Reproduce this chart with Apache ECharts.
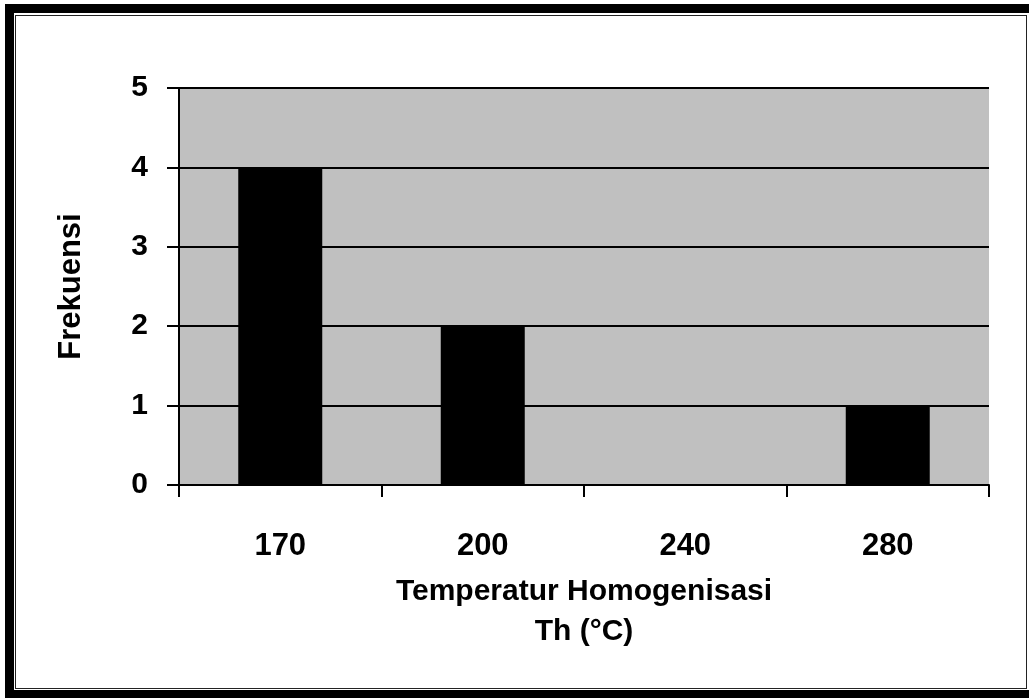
<!DOCTYPE html>
<html>
<head>
<meta charset="utf-8">
<script src="https://cdn.jsdelivr.net/npm/echarts@6/dist/echarts.min.js"></script>
<style>
    html, body { margin: 0; padding: 0; background: #fff; }
    #chart { position: absolute; left: 0; top: 0; width: 1029px; height: 698px; }
    .frame-outer {
        position: absolute; left: 5px; top: 4px; width: 1024px; height: 694px;
        box-sizing: border-box;
        border-top: 9px solid #000; border-left: 9px solid #000; border-bottom: 8px solid #000;
        pointer-events: none;
    }
    .frame-inner {
        position: absolute; left: 15px; top: 15px; width: 1012px; height: 674px;
        box-sizing: border-box; border: 1px solid #222;
        pointer-events: none;
    }
</style>
</head>
<body>
<div id="chart"></div>
<div class="frame-outer"></div>
<div class="frame-inner"></div>
<script>
// data
const categories = ["170", "200", "240", "280"]
const frekuensi = [4, 2, 0, 1]
const yTicks = [0, 1, 2, 3, 4, 5]

const font = "'Liberation Sans', Arial, sans-serif"

const chart = echarts.init(document.getElementById("chart"))

const option = {
    animation: false,
    backgroundColor: "#fff",
    grid: {
        left: 179,
        top: 88,
        right: 40,
        bottom: 213,
        show: true,
        backgroundColor: "#c0c0c0",
        borderWidth: 0,
    },
    xAxis: {
        type: "category",
        data: categories,
        boundaryGap: true,
        name: "Temperatur Homogenisasi\nTh (°C)",
        nameLocation: "middle",
        nameGap: 87,
        nameTextStyle: {
            color: "#000",
            fontFamily: font,
            fontWeight: "bold",
            fontSize: 30,
            lineHeight: 40,
        },
        axisLine: { lineStyle: { color: "#000", width: 2 } },
        axisTick: { show: true, length: 12, lineStyle: { color: "#000", width: 2 } },
        axisLabel: {
            color: "#000",
            fontFamily: font,
            fontSize: 31,
            fontWeight: "bold",
            margin: 46,
        },
    },
    yAxis: {
        type: "value",
        min: yTicks[0],
        max: yTicks[yTicks.length - 1],
        interval: 1,
        name: "Frekuensi",
        nameLocation: "middle",
        nameGap: 92,
        nameRotate: 90,
        nameTextStyle: {
            color: "#000",
            fontFamily: font,
            fontWeight: "bold",
            fontSize: 31,
        },
        axisLine: { show: true, lineStyle: { color: "#000", width: 2 } },
        axisTick: { show: true, length: 12, lineStyle: { color: "#000", width: 2 } },
        axisLabel: {
            color: "#000",
            fontFamily: font,
            fontSize: 30,
            fontWeight: "bold",
            margin: 31,
        },
        splitLine: { show: true, lineStyle: { color: "#000", width: 2 } },
    },
    series: [
        {
            type: "bar",
            data: frekuensi,
            barWidth: 84,
            itemStyle: { color: "#000" },
        },
    ],
}

chart.setOption(option)
</script>
</body>
</html>
